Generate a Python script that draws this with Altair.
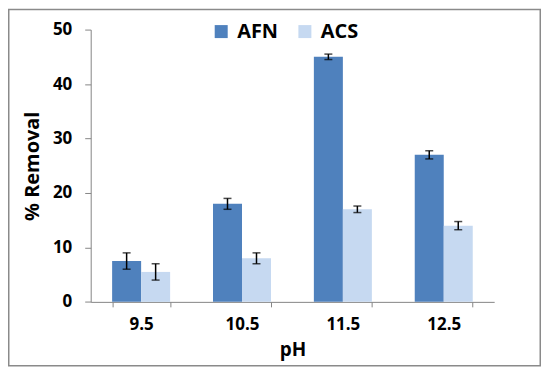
import altair as alt
import pandas as pd

ph = ["9.5", "10.5", "11.5", "12.5"]
afn = [7.5, 18, 45, 27]
acs = [5.5, 8, 17, 14]
afn_err = [1.5, 1.0, 0.5, 0.75]
acs_err = [1.5, 1.0, 0.6, 0.75]
series = ["AFN", "ACS"]
colors = ["#4F81BD", "#C6D9F1"]

rows = []
for i, p in enumerate(ph):
    rows.append({"pH": p, "series": "AFN", "value": afn[i], "lo": afn[i] - afn_err[i], "hi": afn[i] + afn_err[i]})
    rows.append({"pH": p, "series": "ACS", "value": acs[i], "lo": acs[i] - acs_err[i], "hi": acs[i] + acs_err[i]})
df = pd.DataFrame(rows)

FONT = "Open Sans"

x = alt.X("pH:N", sort=ph, title="pH",
          scale=alt.Scale(paddingInner=0.425, paddingOuter=0.2125),
          axis=alt.Axis(labelAngle=0, tickBand="extent", tickSize=5, labelPadding=10,
                        titlePadding=8, labelFontSize=17, titleFontSize=19))
xo = alt.XOffset("series:N", sort=series, scale=alt.Scale(paddingInner=0, paddingOuter=0))
y = alt.Y("value:Q", title="% Removal",
          scale=alt.Scale(domain=[0, 50], nice=False),
          axis=alt.Axis(values=[0, 10, 20, 30, 40, 50], tickSize=6, labelPadding=13,
                        grid=False, titlePadding=10, labelFontSize=17, titleFontSize=20))

base = alt.Chart(df)

bars = base.mark_bar().encode(
    x=x, xOffset=xo, y=y,
    color=alt.Color("series:N", sort=series,
                    scale=alt.Scale(domain=series, range=colors),
                    legend=alt.Legend(title=None, orient="none", direction="horizontal",
                                      legendX=121, legendY=-8, symbolType="square",
                                      symbolSize=170, symbolStrokeWidth=0,
                                      labelFontSize=20, labelFontWeight="bold",
                                      labelFont=FONT, labelOffset=6, columnPadding=16)),
)

rules = base.mark_rule(color="black", strokeWidth=1.5).encode(
    x=x, xOffset=xo, y="lo:Q", y2="hi:Q")
caps_hi = base.mark_tick(color="black", thickness=1.5, size=8).encode(
    x=x, xOffset=xo, y="hi:Q")
caps_lo = base.mark_tick(color="black", thickness=1.5, size=8).encode(
    x=x, xOffset=xo, y="lo:Q")

frame = alt.Chart(pd.DataFrame({"a": [0]})).mark_rect(
    fill=None, stroke="#8a8a8a", strokeWidth=1.5, clip=False).encode(
    x=alt.value(-82.25), x2=alt.value(451.25), y=alt.value(-20.25), y2=alt.value(337.5))

chart = alt.layer(frame, bars, rules, caps_hi, caps_lo).properties(
    width=405, height=273.3,
    autosize=alt.AutoSizeParams(type="none"),
    padding={"left": 83, "top": 21, "right": 48, "bottom": 66},
).configure_view(stroke=None).configure_axis(
    domainColor="#868686", tickColor="#868686", domainWidth=1, tickWidth=1,
    labelFont=FONT, titleFont=FONT, labelFontWeight="bold", titleFontWeight="bold",
    labelColor="black", titleColor="black",
)

chart.save("out.html", embed_options={"renderer": "svg", "actions": False})
